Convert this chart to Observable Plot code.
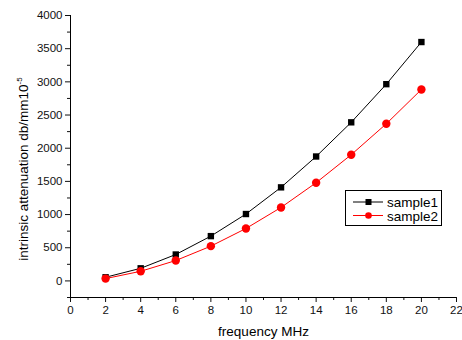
<!DOCTYPE html>
<html>
<head>
<meta charset="utf-8">
<script src="https://cdn.jsdelivr.net/npm/d3@7"></script>
<script src="https://cdn.jsdelivr.net/npm/@observablehq/plot@0.6"></script>
<style>
  body { margin: 0; background: #fff; }
  #wrap { position: relative; width: 462px; height: 340px; font-family: "Liberation Sans", Arial, sans-serif; }
  #legend { position: absolute; left: 345px; top: 190px; width: 95px; height: 34px; border: 1px solid #000; background: #fff; font-size: 13.5px; }
</style>
</head>
<body>
<div id="wrap"></div>
<script>
const frequency = [2, 4, 6, 8, 10, 12, 14, 16, 18, 20];
const sample1 = [55, 190, 398, 675, 1008, 1410, 1875, 2390, 2965, 3600];
const sample2 = [35, 145, 307, 524, 790, 1107, 1480, 1902, 2368, 2885];
const seriesNames = ["sample1", "sample2"];
const seriesColors = ["#000000", "#ff0000"];
const xMajor = [0, 2, 4, 6, 8, 10, 12, 14, 16, 18, 20, 22];
const yMajor = [0, 500, 1000, 1500, 2000, 2500, 3000, 3500, 4000];

const rows = [];
frequency.forEach((f, i) => {
  rows.push({f, v: sample1[i], s: seriesNames[0]});
  rows.push({f, v: sample2[i], s: seriesNames[1]});
});
const s1 = rows.filter(d => d.s === "sample1");
const s2 = rows.filter(d => d.s === "sample2");
const xMinor = d3.range(1, 22, 2);
const yMinor = d3.range(-250, 4001, 500);

const chart = Plot.plot({
  width: 462,
  height: 340,
  marginLeft: 70,
  marginRight: 6,
  marginTop: 15,
  marginBottom: 43,
  style: {fontFamily: "Liberation Sans, Arial, sans-serif", fontSize: "11.5px", color: "#111", background: "#fff"},
  x: {domain: [0, 22]},
  y: {domain: [-250, 4000]},
  marks: [
    Plot.axisX({ticks: xMajor, tickSize: 5, tickPadding: 3, tickFormat: "d", label: null, fontSize: 11.5}),
    Plot.axisX({ticks: xMinor, tickSize: 3, text: null, label: null}),
    Plot.axisY({ticks: yMajor, tickSize: 5, tickPadding: 3, tickFormat: "d", label: null, fontSize: 11.5}),
    Plot.axisY({ticks: yMinor, tickSize: 3, text: null, label: null}),
    Plot.ruleX([0], {stroke: "#000", strokeWidth: 1}),
    Plot.ruleY([-250], {stroke: "#000", strokeWidth: 1}),
    Plot.line(s1, {x: "f", y: "v", stroke: seriesColors[0], strokeWidth: 1}),
    Plot.line(s2, {x: "f", y: "v", stroke: seriesColors[1], strokeWidth: 1}),
    Plot.dot(s1, {x: "f", y: "v", symbol: "square", r: 3.6, fill: seriesColors[0], stroke: null}),
    Plot.dot(s2, {x: "f", y: "v", symbol: "circle", r: 4.2, fill: seriesColors[1], stroke: null}),
    Plot.text(["frequency MHz"], {frameAnchor: "bottom", dy: 38, fontSize: 13.5, fill: "#000"})
  ]
});

const wrap = document.getElementById("wrap");
wrap.appendChild(chart);

// Y axis label with superscript
const svg = d3.select(chart);
const yl = svg.append("text")
  .attr("transform", "translate(28,169) rotate(-90)")
  .attr("text-anchor", "middle")
  .attr("font-size", 13.5)
  .attr("fill", "#000");
yl.append("tspan").text("intrinsic attenuation db/mm10");
yl.append("tspan").attr("font-size", 8).attr("dy", -6).text("-5");

// Legend
const legend = document.createElement("div");
legend.id = "legend";
const ls = d3.create("svg").attr("width", 95).attr("height", 34);
seriesNames.forEach((name, i) => {
  const y = 11 + i * 13.5;
  const g = ls.append("g").attr("transform", `translate(0,${y})`);
  g.append("line").attr("x1", 7).attr("x2", 37).attr("y1", 0).attr("y2", 0).attr("stroke", seriesColors[i]);
  if (i === 0) g.append("rect").attr("x", 19.5).attr("y", -3).attr("width", 6).attr("height", 6).attr("fill", seriesColors[i]);
  else g.append("circle").attr("cx", 22.5).attr("cy", 0).attr("r", 3.3).attr("fill", seriesColors[i]);
  g.append("text").attr("x", 41).attr("y", 5).attr("font-size", 13.5).attr("fill", "#000").text(name);
});
legend.appendChild(ls.node());
wrap.appendChild(legend);
</script>
</body>
</html>
